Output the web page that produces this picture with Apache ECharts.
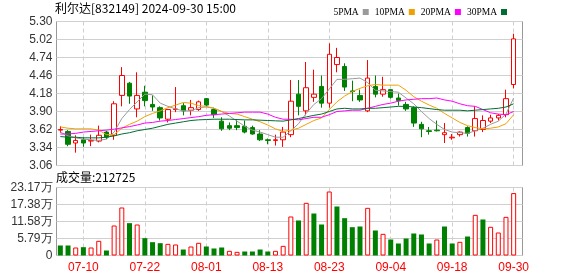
<!DOCTYPE html>
<html><head><meta charset="utf-8">
<script src="https://cdn.jsdelivr.net/npm/echarts@6/dist/echarts.min.js"></script>
<style>html,body{margin:0;padding:0;background:#fff}#c{width:578px;height:276px}</style>
</head><body><div id="c"></div>
<script>
const stockTitle = '利尔达[832149] 2024-09-30 15:00';
const dates = ['07-05','07-08','07-09','07-10','07-11','07-12','07-15','07-16','07-17','07-18','07-19','07-22','07-23','07-24','07-25','07-26','07-29','07-30','07-31',
'08-01','08-02','08-05','08-06','08-07','08-08','08-09','08-12','08-13','08-14','08-15','08-16','08-19','08-20','08-21','08-22','08-23','08-26','08-27','08-28','08-29','08-30',
'09-02','09-03','09-04','09-05','09-06','09-09','09-10','09-11','09-12','09-13','09-18','09-19','09-20','09-23','09-24','09-25','09-26','09-27','09-30'];
const labelDates = ['07-10','07-22','08-01','08-13','08-23','09-04','09-18','09-30'];
const opens  = [3.61,3.59,3.41,3.46,3.44,3.44,3.58,3.53,4.15,4.34, 3.94,4.20,4.01,3.96,3.78,3.93,3.99,3.92,3.93,4.10, 3.93,3.75,3.68,3.68,3.67,3.65,3.55,3.46,3.45,3.46, 3.54,4.17,3.91,4.12,4.29,4.03,4.63,4.60,4.22,4.15, 3.91,4.29,4.17,4.24,4.11,4.01,3.96,3.70,3.60,3.61, 3.54,3.49,3.54,3.65,3.60,3.62,3.75,3.80,3.85,4.32];
const closes = [3.62,3.39,3.45,3.41,3.45,3.53,3.50,4.02,4.46,4.14, 4.15,4.07,3.97,3.80,3.93,3.94,3.91,3.96,4.05,4.00, 3.85,3.63,3.64,3.65,3.58,3.55,3.46,3.45,3.46,3.58, 4.06,3.98,4.27,4.17,4.03,4.79,4.74,4.28,4.21,4.08, 4.42,4.17,4.24,4.12,4.07,3.94,3.72,3.63,3.59,3.60, 3.57,3.50,3.58,3.56,3.79,3.76,3.80,3.84,4.10,5.03];
const lows   = [3.57,3.36,3.26,3.35,3.36,3.42,3.47,3.46,3.98,4.02, 3.81,3.98,3.91,3.76,3.73,3.89,3.84,3.84,3.91,3.98, 3.80,3.60,3.61,3.61,3.56,3.54,3.44,3.39,3.37,3.35, 3.50,3.84,3.84,4.05,3.96,3.96,4.51,4.22,4.06,4.05, 3.89,4.12,4.13,4.10,3.99,3.91,3.66,3.50,3.54,3.59, 3.41,3.46,3.51,3.51,3.51,3.58,3.72,3.76,3.81,4.26];
const highs  = [3.67,3.61,3.53,3.50,3.54,3.68,3.60,4.06,4.59,4.36, 4.51,4.30,4.15,3.98,3.94,4.28,4.03,4.08,4.07,4.11, 3.96,3.81,3.73,3.77,3.76,3.68,3.61,3.48,3.54,3.66, 4.39,4.39,4.67,4.55,4.46,4.96,4.89,4.65,4.38,4.24, 4.70,4.46,4.44,4.25,4.18,4.05,3.98,3.74,3.66,3.76, 3.72,3.55,3.59,3.67,3.98,3.84,3.85,3.86,4.24,5.11];
const ma5  = [3.58,3.52,3.49,3.47,3.46,3.45,3.47,3.58,3.79,3.93, 4.05,4.17,4.16,4.03,3.98,3.94,3.91,3.91,3.96,3.97, 3.95,3.90,3.83,3.75,3.67,3.61,3.58,3.54,3.50,3.50, 3.60,3.71,3.87,4.01,4.10,4.25,4.40,4.40,4.41,4.42, 4.35,4.23,4.22,4.21,4.20,4.11,4.02,3.90,3.79,3.70, 3.62,3.58,3.57,3.56,3.60,3.64,3.70,3.75,3.86,4.11];
const ma10 = [3.66,3.64,3.63,3.63,3.63,3.61,3.54,3.54,3.64,3.70, 3.75,3.82,3.87,3.91,3.96,4.00,4.04,4.03,3.99,3.98, 3.95,3.90,3.87,3.86,3.82,3.78,3.74,3.69,3.63,3.59, 3.61,3.64,3.70,3.76,3.80,3.93,4.05,4.14,4.21,4.26, 4.30,4.32,4.31,4.31,4.31,4.23,4.13,4.06,4.00,3.95, 3.87,3.80,3.73,3.68,3.65,3.63,3.64,3.66,3.71,3.85];
const ma20 = [3.55,3.55,3.56,3.58,3.59,3.60,3.61,3.625,3.645,3.665, 3.69,3.72,3.73,3.75,3.76,3.775,3.79,3.805,3.82,3.84, 3.85,3.86,3.87,3.88,3.89,3.89,3.89,3.86,3.81,3.78, 3.78,3.77,3.79,3.81,3.81,3.85,3.90,3.91,3.92,3.92, 3.95,3.98,4.01,4.03,4.06,4.08,4.09,4.10,4.10,4.11, 4.08,4.06,4.02,3.99,3.98,3.93,3.88,3.86,3.85,3.90];
const ma30 = [3.51,3.50,3.50,3.49,3.49,3.49,3.50,3.52,3.55,3.57, 3.60,3.62,3.64,3.67,3.70,3.72,3.74,3.76,3.77,3.775, 3.78,3.78,3.78,3.775,3.77,3.77,3.765,3.76,3.755,3.75, 3.77,3.79,3.815,3.84,3.86,3.90,3.94,3.95,3.94,3.94, 3.95,3.95,3.96,3.97,3.98,3.98,3.97,3.96,3.945,3.93, 3.92,3.92,3.92,3.91,3.92,3.93,3.94,3.95,3.97,4.02];
const volumes = [34100,34100,27300,28400,27300,50000,17000,102200,163600,110200, 105600,59100,45400,42000,39700,37500,20400,30700,43200,30700, 23900,27300,15900,12500,13600,13600,20400,13600,15900,32900, 132900,119300,179400,143100,105600,218100,167000,127200,96500,98800, 162400,85200,73800,54500,40900,57900,75000,71600,40900,54500, 98800,40900,46600,64700,138500,122700,97700,78400,131700,212725];
const volUp = [0,0,1,0,1,1,0,1,1,0, 1,0,0,0,1,1,0,1,1,0, 0,0,1,1,0,0,0,0,1,1, 1,0,1,0,0,1,0,0,0,0, 1,0,1,0,0,0,0,0,0,1, 0,0,1,0,1,0,1,1,1,1];
const priceTicks = ['3.06','3.34','3.62','3.90','4.18','4.46','4.74','5.02','5.30'];
const volTicks = ['0','5.79万','11.58万','17.38万','23.17万'];
const volTickValues = [0,57925,115850,173775,231700];

const pMin = parseFloat(priceTicks[0]), pMax = parseFloat(priceTicks[priceTicks.length-1]);
const pInt = (pMax - pMin) / (priceTicks.length - 1);
const vMax = volTickValues[volTickValues.length-1], vInt = volTickValues[1];

const RED = '#ff0000', GREEN = '#008000';
const candleData = opens.map((o,i)=>[o, closes[i], lows[i], highs[i]]);
const volData = volumes.map((v,i)=> volUp[i] ? {value:v, itemStyle:{color:'#ffffff', borderColor:RED, borderWidth:1}} : {value:v, itemStyle:{color:GREEN}});
const showDate = (idx, val) => labelDates.indexOf(val) >= 0;

const chart = echarts.init(document.getElementById('c'), null, {renderer:'canvas'});
const labelFont = {fontSize:12, fontFamily:'Liberation Sans, Arial, sans-serif', color:'#333'};
const L = 56.5, W = 461, WF = 466;
chart.setOption({
  animation:false,
  title:[
    {text: stockTitle, left:55, top:2, padding:0, textStyle:{fontSize:12, fontWeight:'normal', color:'#000', fontFamily:'Noto Sans CJK SC, sans-serif'}},
    {text: '成交量:' + volumes[volumes.length-1], left:56, top:171, padding:0, textStyle:{fontSize:12, fontWeight:'normal', color:'#000', fontFamily:'Noto Sans CJK SC, sans-serif'}}
  ],
  legend:{data:['5PMA','10PMA','20PMA','30PMA'], right:66, top:2, align:'right', icon:'rect', itemWidth:6, itemHeight:6, itemGap:6,
    textStyle:{fontSize:9.5, fontFamily:'Liberation Serif, serif', color:'#000', padding:[0,-1,0,0]}},
  grid:[
    {left:L, top:21.5, width:W, height:144, show:false},
    {left:L, top:187.5, width:W, height:68, show:false},
    {left:L, top:21.5, width:WF, height:144, show:true, borderColor:'#999', borderWidth:1, backgroundColor:'transparent'},
    {left:L, top:187.5, width:WF, height:68, show:true, borderColor:'#999', borderWidth:1, backgroundColor:'transparent'}
  ],
  xAxis:[
    {type:'category', gridIndex:0, data:dates, axisLine:{show:false}, axisTick:{show:false}, axisLabel:{show:false},
      splitLine:{show:true, interval:showDate, alignWithLabel:true, lineStyle:{color:'#cfcfcf', type:[4,3]}}},
    {type:'category', gridIndex:1, data:dates, axisLine:{show:false}, axisTick:{show:false},
      axisLabel:{interval:showDate, color:RED, fontSize:12, fontFamily:'Liberation Sans, Arial, sans-serif', margin:6},
      splitLine:{show:true, interval:showDate, alignWithLabel:true, lineStyle:{color:'#cfcfcf', type:[4,3]}}},
    {type:'value', gridIndex:2, show:false, min:0, max:1},
    {type:'value', gridIndex:3, show:false, min:0, max:1}
  ],
  yAxis:[
    {type:'value', gridIndex:0, min:pMin, max:pMax, interval:pInt, show:false},
    {type:'value', gridIndex:1, min:0, max:vMax, interval:vInt, show:false},
    {type:'value', gridIndex:2, min:pMin, max:pMax, interval:pInt, axisLine:{show:false}, axisTick:{show:false},
      axisLabel:Object.assign({margin:4, formatter:(v)=>priceTicks[Math.round((v-pMin)/pInt)]}, labelFont),
      splitLine:{lineStyle:{color:'#d0d0d0'}}},
    {type:'value', gridIndex:3, min:0, max:vMax, interval:vInt, axisLine:{show:false}, axisTick:{show:false},
      axisLabel:Object.assign({margin:4, formatter:(v)=>volTicks[Math.round(v/vInt)]}, labelFont),
      splitLine:{lineStyle:{color:'#d0d0d0'}}}
  ],
  series:[
    {type:'candlestick', name:'K', xAxisIndex:0, yAxisIndex:0, data:candleData, barWidth:5,
      itemStyle:{color:'#ffffff', color0:GREEN, borderColor:RED, borderColor0:GREEN, borderColorDoji:RED, borderWidth:1}},
    {type:'line', name:'5PMA', xAxisIndex:0, yAxisIndex:0, data:ma5, symbol:'none', color:'#9a9a9a', lineStyle:{width:1}},
    {type:'line', name:'10PMA', xAxisIndex:0, yAxisIndex:0, data:ma10, symbol:'none', color:'#f0a000', lineStyle:{width:1}},
    {type:'line', name:'20PMA', xAxisIndex:0, yAxisIndex:0, data:ma20, symbol:'none', color:'#ff00ff', lineStyle:{width:1}},
    {type:'line', name:'30PMA', xAxisIndex:0, yAxisIndex:0, data:ma30, symbol:'none', color:'#006e32', lineStyle:{width:1}},
    {type:'bar', name:'VOL', xAxisIndex:1, yAxisIndex:1, data:volData, barWidth:5}
  ]
});
</script></body></html>
